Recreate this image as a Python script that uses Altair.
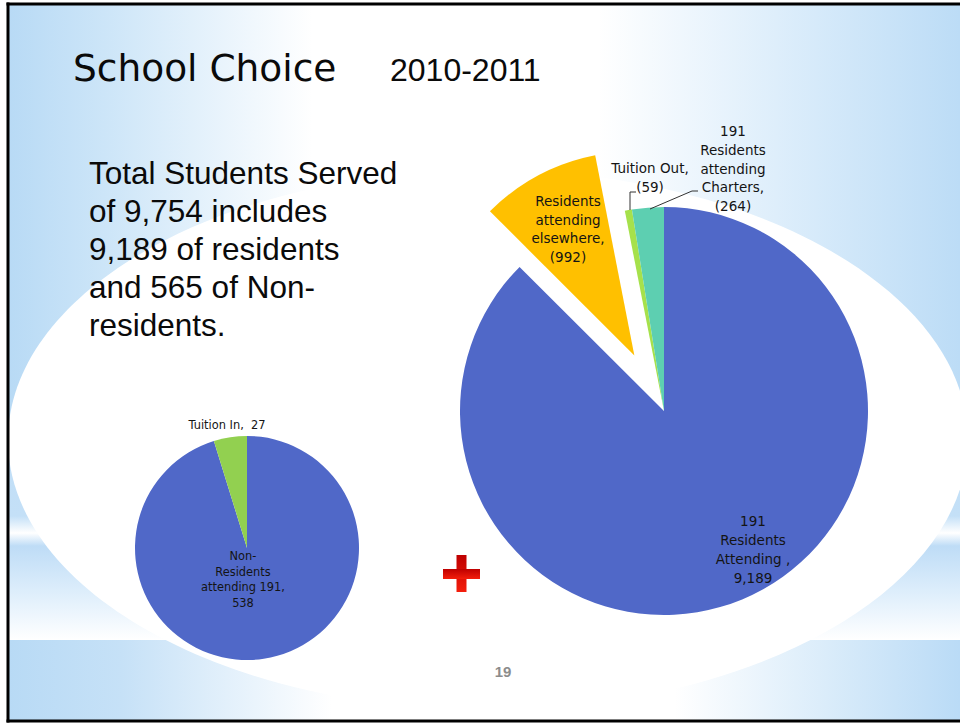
import math
import altair as alt
import pandas as pd

# ---------------- data ----------------
big_categories = ["Residents Attending", "Residents attending elsewhere",
                  "Tuition Out", "Residents attending Charters"]
big_values = [9189, 992, 59, 264]
small_categories = ["Non-Residents attending", "Tuition In"]
small_values = [538, 27]

all_categories = big_categories + small_categories
category_colors = ["#5068C8", "#FFC000", "#A6E14B", "#5DCFB1", "#5068C8", "#92D050"]

title_text = "School Choice"
year_text = "2010-2011"
page_number = "19"

residents = big_values[0]
non_residents = sum(small_values)
total_served = residents + non_residents
body_lines = [
    "Total Students Served",
    f"of {total_served:,} includes",
    f"{residents:,} of residents",
    f"and {non_residents:,} of Non-",
    "residents.",
]

big_labels = [
    ["191", "Residents", "Attending ,", f"{big_values[0]:,}"],
    ["Residents", "attending", "elsewhere,", f"({big_values[1]:,})"],
    ["Tuition Out,", f"({big_values[2]})"],
    ["191", "Residents", "attending", "Charters,", f"({big_values[3]})"],
]
small_labels = [
    ["Non-", "Residents", "attending 191,", f"{small_values[0]}"],
    [f"Tuition In,\u00a0\u00a0{small_values[1]}"],
]

exploded = "Residents attending elsewhere"

# ---------------- helpers ----------------
W, H = 960, 723
one = alt.Data(values=[{}])
LABEL_FONT = "DejaVu Sans"
TEXT_COLOR = "#141414"


def gradient(stops, vertical=False):
    return alt.Gradient(
        gradient="linear",
        x1=0, y1=0,
        x2=0 if vertical else 1,
        y2=1 if vertical else 0,
        stops=[alt.GradientStop(offset=o, color=c) for o, c in stops],
    )


def box(x, x2, y, y2, fill):
    return alt.Chart(one).mark_rect(fill=fill, strokeWidth=0).encode(
        x=alt.value(x), x2=alt.value(x2), y=alt.value(y), y2=alt.value(y2)
    )


def seg(x, y, x2, y2, color="#333333", width=1.0):
    return alt.Chart(one).mark_rule(color=color, strokeWidth=width).encode(
        x=alt.value(x), x2=alt.value(x2), y=alt.value(y), y2=alt.value(y2)
    )


def label(lines, x, y, size, lh=None, align="center", font=LABEL_FONT,
          color=TEXT_COLOR, weight="normal"):
    return alt.Chart(one).mark_text(
        text=lines, align=align, baseline="alphabetic", font=font,
        fontSize=size, lineHeight=lh if lh else size * 1.2,
        color=color, fontWeight=weight,
    ).encode(x=alt.value(x), y=alt.value(y))


color_enc = alt.Color("cat:N", scale=alt.Scale(domain=all_categories,
                                               range=category_colors),
                      legend=None)


def pie(df, cx, cy, r, opacity):
    return alt.Chart(df).mark_arc(radius=r).encode(
        theta=alt.Theta("value:Q", stack=True),
        order=alt.Order("idx:Q", sort="ascending"),
        color=color_enc,
        opacity=opacity,
    ).encode(x=alt.value(cx), y=alt.value(cy))


# ---------------- background ----------------
BLUE = "#B8DAF5"
bg_top = box(8, 960, 4, 440, gradient([
    (0, BLUE), (0.1, "#CCE5F8"), (0.32, "#FFFFFF"), (0.62, "#FFFFFF"),
    (0.85, "#D6EAFA"), (1, "#BCDCF6")]))
bg_mid = box(8, 960, 440, 640, gradient([
    (0, "#C0DEF7"), (0.38, "#C4E0F7"), (0.465, "#FFFFFF"), (0.53, "#BEDCF6"),
    (0.75, "#DCEDFB"), (1, "#FFFFFF")], vertical=True))
bg_bot = box(8, 960, 640, 721, gradient([
    (0, BLUE), (0.12, "#C6E1F7"), (0.34, "#FFFFFF"), (0.7, "#FFFFFF"),
    (0.86, "#DAECFA"), (1, "#BADBF6")]))

a, b, k = 480, 270, 0.5523
ellipse_path = (
    f"M {-a} 0 C {-a} {-b*k:.1f} {-a*k:.1f} {-b} 0 {-b} "
    f"C {a*k:.1f} {-b} {a} {-b*k:.1f} {a} 0 "
    f"C {a} {b*k:.1f} {a*k:.1f} {b} 0 {b} "
    f"C {-a*k:.1f} {b} {-a} {b*k:.1f} {-a} 0 Z"
)
ellipse = alt.Chart(one).mark_point(
    shape=ellipse_path, size=4, filled=True, color="white", opacity=1,
    strokeWidth=0,
).encode(x=alt.value(488), y=alt.value(440))

# ---------------- pies ----------------
big_df = pd.DataFrame({"cat": big_categories, "value": big_values,
                       "idx": list(range(len(big_values)))})
small_df = pd.DataFrame({"cat": small_categories, "value": small_values,
                         "idx": list(range(len(small_values)))})

BIG_CX, BIG_CY, BIG_R = 664, 411, 204
SMALL_CX, SMALL_CY, SMALL_R = 247, 548, 112
EXPLODE = 63

# direction of the exploded slice from its mid angle
tot = sum(big_values)
ei = big_categories.index(exploded)
mid = 2 * math.pi * (sum(big_values[:ei]) + big_values[ei] / 2) / tot
ex_cx = BIG_CX + EXPLODE * math.sin(mid)
ex_cy = BIG_CY - EXPLODE * math.cos(mid)

is_ex = alt.datum.cat == exploded
big_main = pie(big_df, BIG_CX, BIG_CY, BIG_R,
               alt.when(is_ex).then(alt.value(0)).otherwise(alt.value(1)))
big_ex = pie(big_df, ex_cx, ex_cy, BIG_R,
             alt.when(is_ex).then(alt.value(1)).otherwise(alt.value(0)))
small_pie = pie(small_df, SMALL_CX, SMALL_CY, SMALL_R, alt.value(1))

# ---------------- texts ----------------
title = label([title_text], 73, 81, 37.5, font="DejaVu Sans", align="left",
              color="#0a0a0a")
year = label([year_text], 390, 81, 32, font="Liberation Sans", align="left",
             color="#0a0a0a")
body = label(body_lines, 89, 184, 31.5, lh=38, font="Liberation Sans",
             align="left", color="#0a0a0a")

lbl_big_main = label(big_labels[0], 753, 526, 13.5, lh=19)
lbl_big_else = label(big_labels[1], 568, 206, 13.5, lh=18.7)
lbl_tout = label(big_labels[2], 650, 173, 13.5, lh=19)
lbl_charter = label(big_labels[3], 733, 136, 13.5, lh=18.8)
lbl_small_main = label(small_labels[0], 243, 560, 11.4, lh=15.7)
lbl_small_in = label(small_labels[1], 227, 429, 11.4)

leaders = [
    seg(636, 192, 630, 192), seg(630, 192, 630, 210),
    seg(698, 191, 692, 191), seg(692, 191, 650, 209),
]

plus_fill = gradient([(0, "#BE0000"), (1, "#F41E0C")], vertical=True)
plus = [box(456.5, 466.5, 555, 592, plus_fill), box(443, 480, 569, 579, plus_fill)]

page = label([page_number], 503, 677, 15, font="Liberation Sans",
             color="#8C8C8C", weight="bold")

border = [
    seg(6.5, 4, 962, 4, color="black", width=3),
    seg(8, 2.5, 8, 722.5, color="black", width=3),
    seg(6.5, 721, 962, 721, color="black", width=3),
]

chart = alt.layer(
    bg_top, bg_mid, bg_bot, ellipse,
    small_pie, big_main, big_ex,
    title, year, body,
    lbl_big_main, lbl_big_else, lbl_tout, lbl_charter,
    lbl_small_main, lbl_small_in,
    *leaders, *plus, page, *border,
).resolve_scale(
    theta="independent"
).properties(
    width=W, height=H, autosize="none", padding=0,
).configure(background="white").configure_view(strokeWidth=0)

chart.save("out.html", embed_options={"renderer": "svg", "actions": False})
